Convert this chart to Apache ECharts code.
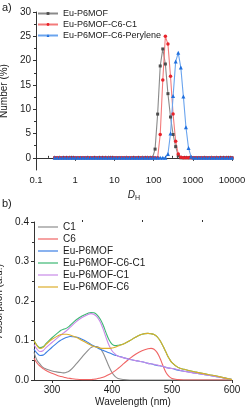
<!DOCTYPE html>
<html><head><meta charset="utf-8">
<script src="https://cdn.jsdelivr.net/npm/echarts@6/dist/echarts.min.js"></script>
<style>html,body{margin:0;padding:0;background:#fff}#c{width:247px;height:412px}</style>
</head><body><div id="c"></div>
<script>
// ---- Panel a) DLS size distribution ----
const sizes = [0.3,0.349,0.406,0.472,0.549,0.639,0.743,0.864,1.005,1.169,
  1.36,1.582,1.84,2.14,2.489,2.895,3.368,3.918,4.557,5.301,
  6.166,7.172,8.343,9.704,11.29,13.13,15.27,17.77,20.67,24.04,
  27.96,32.53,37.84,44.01,51.2,59.55,69.27,80.58,93.73,109.0,
  126.8,147.5,171.6,199.6,232.2,270.1,314.2,365.5,425.1,494.5,
  575.2,669.1,778.3,905.4,1053,1225,1425,1657,1928,2243,
  2609,3034,3530,4106,4776,5556,6463,7518,8745,10000];
const numEuP6MOF = [0,0,0,0,0,0,0,0,0,0, 0,0,0,0,0,0,0,0,0,0, 0,0,0,0,0,0,0,0,0,0, 0,0,0,0,0,0,0,0,0,1.8,
  9.0,18.9,22.4,19.3,13.2,8.4,4.8,2.3,0.4,0, 0,0,0,0,0,0,0,0,0,0, 0,0,0,0,0,0,0,0,0,0];
const numEuC6C1 = [0,0,0,0,0,0,0,0,0,0, 0,0,0,0,0,0,0,0,0,0, 0,0,0,0,0,0,0,0,0,0, 0,0,0,0,0,0,0,0,0,0,
  0,4.8,16.0,25.0,23.4,16.8,9.0,3.4,0.8,0.1, 0,0,0,0,0,0,0,0,0,0, 0,0,0,0,0,0,0,0,0,0];
const numEuC6Per = [0,0,0,0,0,0,0,0,0,0, 0,0,0,0,0,0,0,0,0,0, 0,0,0,0,0,0,0,0,0,0, 0,0,0,0,0,0,0,0,0,0,
  0,0,0,0,0.8,5.0,12.7,19.8,21.6,18.6, 12.6,6.3,2.0,0.2,0,0,0,0,0,0, 0,0,0,0,0,0,0,0,0,0];
const sizeTicks = [0.1,1,10,100,1000,10000];
const sizeMinorTicks = [0.2,0.3,0.4,0.5,0.6,0.7,0.8,0.9,2,3,4,5,6,7,8,9,20,30,40,50,60,70,80,90,
  200,300,400,500,600,700,800,900,2000,3000,4000,5000,6000,7000,8000,9000];
const numTicks = [0,5,10,15,20,25,30];
const numMinorTicks = [2.5,7.5,12.5,17.5,22.5,27.5];

// ---- Panel b) absorption spectra ----
const wl = [270,275,280,285,290,300,310,315,320,325,330,340,350,360,365,370,375,380,385,390,395,400,405,410,420,430,440,450,460,465,470,475,480,485,490,495,500,510,520,540,560,580,600];
const absC1 =    [0.07,0.05,0.04,0.032,0.028,0.023,0.02,0.019,0.018,0.02,0.024,0.04,0.058,0.075,0.082,0.085,0.085,0.08,0.069,0.052,0.034,0.019,0.009,0.004,0.001,0,0,0,0,0,0,0,0,0,0,0,0,0,0,0,0,0,0];
const absC6 =    [0.055,0.043,0.035,0.029,0.024,0.017,0.011,0.009,0.007,0.005,0.004,0.002,0.001,0.001,0.001,0.002,0.003,0.005,0.007,0.01,0.014,0.018,0.023,0.029,0.042,0.055,0.066,0.074,0.079,0.08,0.078,0.07,0.055,0.036,0.019,0.009,0.004,0.001,0,0,0,0,0];
const absEu =    [0.078,0.068,0.062,0.063,0.069,0.083,0.096,0.101,0.105,0.108,0.11,0.109,0.103,0.095,0.09,0.086,0.082,0.078,0.075,0.072,0.069,0.066,0.063,0.061,0.056,0.052,0.049,0.046,0.042,0.041,0.039,0.037,0.036,0.034,0.032,0.03,0.029,0.025,0.022,0.017,0.012,0.007,0.001];
const absEuC6C1 =[0.1,0.088,0.082,0.084,0.092,0.107,0.12,0.126,0.129,0.132,0.138,0.152,0.162,0.169,0.171,0.17,0.165,0.155,0.14,0.12,0.102,0.091,0.087,0.088,0.092,0.1,0.109,0.116,0.118,0.117,0.115,0.11,0.1,0.086,0.07,0.055,0.044,0.032,0.027,0.02,0.014,0.008,0.001];
const absEuC1 =  [0.09,0.078,0.072,0.074,0.082,0.095,0.108,0.114,0.12,0.126,0.133,0.147,0.158,0.166,0.168,0.166,0.16,0.148,0.13,0.108,0.088,0.074,0.066,0.06,0.056,0.052,0.049,0.046,0.042,0.041,0.04,0.038,0.036,0.034,0.032,0.03,0.029,0.026,0.022,0.017,0.012,0.007,0.001];
const absEuC6 =  [0.1,0.087,0.08,0.082,0.09,0.103,0.112,0.115,0.116,0.116,0.114,0.108,0.1,0.092,0.088,0.085,0.083,0.081,0.08,0.08,0.08,0.081,0.083,0.086,0.092,0.1,0.109,0.116,0.118,0.117,0.115,0.11,0.1,0.086,0.07,0.055,0.044,0.032,0.027,0.02,0.014,0.008,0.001];
const wlTicks = [300,400,500,600];
const wlMinorTicks = [350,450,550];

const FONT = '"Liberation Sans", Arial, sans-serif';
const TXT = '#1a1a1a';
const AX = '#333';

const pair = (xs, ys) => xs.map((x, i) => [x, ys[i]]);

function dls(name, ys, lineColor, markColor, symbol, size) {
  return {
    name, type: 'line', xAxisIndex: 0, yAxisIndex: 0, data: pair(sizes, ys),
    symbol, symbolSize: size, showSymbol: true,
    lineStyle: { color: lineColor, width: 1.1 },
    itemStyle: { color: markColor, borderWidth: 0 },
    emphasis: { disabled: true }, animation: false
  };
}
function spec(name, ys, color) {
  return {
    name, type: 'line', xAxisIndex: 2, yAxisIndex: 2, data: pair(wl, ys),
    smooth: 0.4, showSymbol: false, symbol: 'none',
    lineStyle: { color, width: 1.1 }, itemStyle: { color },
    emphasis: { disabled: true }, animation: false
  };
}

const chart = echarts.init(document.getElementById('c'), null, { renderer: 'canvas' });
chart.setOption({
  animation: false,
  textStyle: { fontFamily: FONT },
  grid: [
    { left: 36, top: 12, width: 196, height: 158, containLabel: false, outerBoundsMode: 'none' },
    { left: 34, top: 222, width: 198, height: 158, containLabel: false, outerBoundsMode: 'none' }
  ],
  graphic: [
    { type: 'text', left: 2, top: 2, style: { text: 'a)', font: '11px ' + FONT, fill: TXT } },
    { type: 'text', left: 2, top: 198, style: { text: 'b)', font: '11px ' + FONT, fill: TXT } }
  ],
  legend: [
    {
      left: 37, top: 8, padding: 0, orient: 'vertical', itemWidth: 20, itemHeight: 3.5, itemGap: 0,
      data: ['Eu-P6MOF', 'Eu-P6MOF-C6-C1', 'Eu-P6MOF-C6-Perylene'],
      textStyle: { fontSize: 9, color: TXT, fontFamily: FONT, lineHeight: 11 },
      selectedMode: false
    },
    {
      left: 38, top: 221, padding: 0, orient: 'vertical', itemWidth: 20, itemHeight: 1.2, itemGap: 0,
      icon: 'rect',
      data: ['C1', 'C6', 'Eu-P6MOF\u200b', 'Eu-P6MOF-C6-C1\u200b', 'Eu-P6MOF-C1', 'Eu-P6MOF-C6'],
      textStyle: { fontSize: 10, color: TXT, fontFamily: FONT, lineHeight: 12 },
      selectedMode: false
    }
  ],
  xAxis: [
    {
      gridIndex: 0, type: 'log', logBase: 10, min: 0.1, max: 10000,
      axisLine: { lineStyle: { color: AX } },
      axisTick: { length: 3, inside: false, lineStyle: { color: AX }, customValues: sizeTicks },
      axisLabel: { customValues: sizeTicks, fontSize: 9.5, color: TXT, margin: 5, formatter: v => String(+(+v).toPrecision(6)) },
      splitLine: { show: false },
      name: '{i|D}{s|H}', nameLocation: 'middle', nameGap: 19,
      nameTextStyle: { rich: { i: { fontStyle: 'italic', fontSize: 10, color: TXT, fontFamily: FONT }, s: { fontSize: 7, color: TXT, verticalAlign: 'bottom', padding: [6, 0, 0, 0], fontFamily: FONT } } }
    },
    {
      gridIndex: 0, type: 'log', logBase: 10, min: 0.1, max: 10000,
      axisLine: { show: false },
      axisTick: { length: 2, lineStyle: { color: AX }, customValues: sizeMinorTicks },
      axisLabel: { show: false }, splitLine: { show: false }
    },
    {
      gridIndex: 1, type: 'value', min: 270, max: 600,
      axisLine: { lineStyle: { color: AX } },
      axisTick: { length: 3, lineStyle: { color: AX }, customValues: wlTicks },
      axisLabel: { customValues: wlTicks, fontSize: 10, color: TXT, margin: 5 },
      splitLine: { show: false },
      name: 'Wavelength (nm)', nameLocation: 'middle', nameGap: 17,
      nameTextStyle: { fontSize: 10, color: TXT, fontFamily: FONT }
    },
    {
      gridIndex: 1, type: 'value', min: 270, max: 600,
      axisLine: { show: false },
      axisTick: { length: 2, lineStyle: { color: AX }, customValues: wlMinorTicks },
      axisLabel: { show: false }, splitLine: { show: false }
    }
  ],
  yAxis: [
    {
      gridIndex: 0, type: 'value', min: -2.5, max: 30,
      axisLine: { show: true, lineStyle: { color: AX } },
      axisTick: { show: true, length: 3, lineStyle: { color: AX }, customValues: numTicks },
      axisLabel: { customValues: numTicks, fontSize: 10, color: TXT, margin: 5 },
      splitLine: { show: false },
      name: 'Number (%)', nameLocation: 'middle', nameGap: 21,
      nameTextStyle: { fontSize: 10, color: TXT, fontFamily: FONT }
    },
    {
      gridIndex: 0, type: 'value', min: -2.5, max: 30, position: 'left',
      axisLine: { show: false },
      axisTick: { show: true, length: 2, lineStyle: { color: AX }, customValues: numMinorTicks },
      axisLabel: { show: false }, splitLine: { show: false }
    },
    {
      gridIndex: 1, type: 'value', min: 0, max: 0.4, interval: 0.1,
      axisLine: { show: true, lineStyle: { color: AX } },
      axisTick: { show: true, length: 3, lineStyle: { color: AX } },
      minorTick: { show: true, splitNumber: 2, length: 2, lineStyle: { color: AX } },
      axisLabel: { fontSize: 10, color: TXT, margin: 5, formatter: v => v.toFixed(1) },
      splitLine: { show: false },
      name: 'Absorption (a.u.)', nameLocation: 'middle', nameGap: 24,
      nameTextStyle: { fontSize: 10, color: TXT, fontFamily: FONT }
    }
  ],
  series: [
    dls('Eu-P6MOF', numEuP6MOF, '#8a8a8a', '#4d4d4d', 'rect', 3),
    dls('Eu-P6MOF-C6-C1', numEuC6C1, '#f37a7a', '#e8222a', 'circle', 3.5),
    dls('Eu-P6MOF-C6-Perylene', numEuC6Per, '#6aa4ee', '#1f6fde', 'triangle', 4),
    spec('C1', absC1, '#8e8e8e'),
    spec('C6', absC6, '#f06464'),
    spec('Eu-P6MOF\u200b', absEu, '#3b7fe4'),
    spec('Eu-P6MOF-C6-C1\u200b', absEuC6C1, '#3db873'),
    spec('Eu-P6MOF-C1', absEuC1, '#c98ae8'),
    spec('Eu-P6MOF-C6', absEuC6, '#dcae2c')
  ]
});
</script>
</body></html>
